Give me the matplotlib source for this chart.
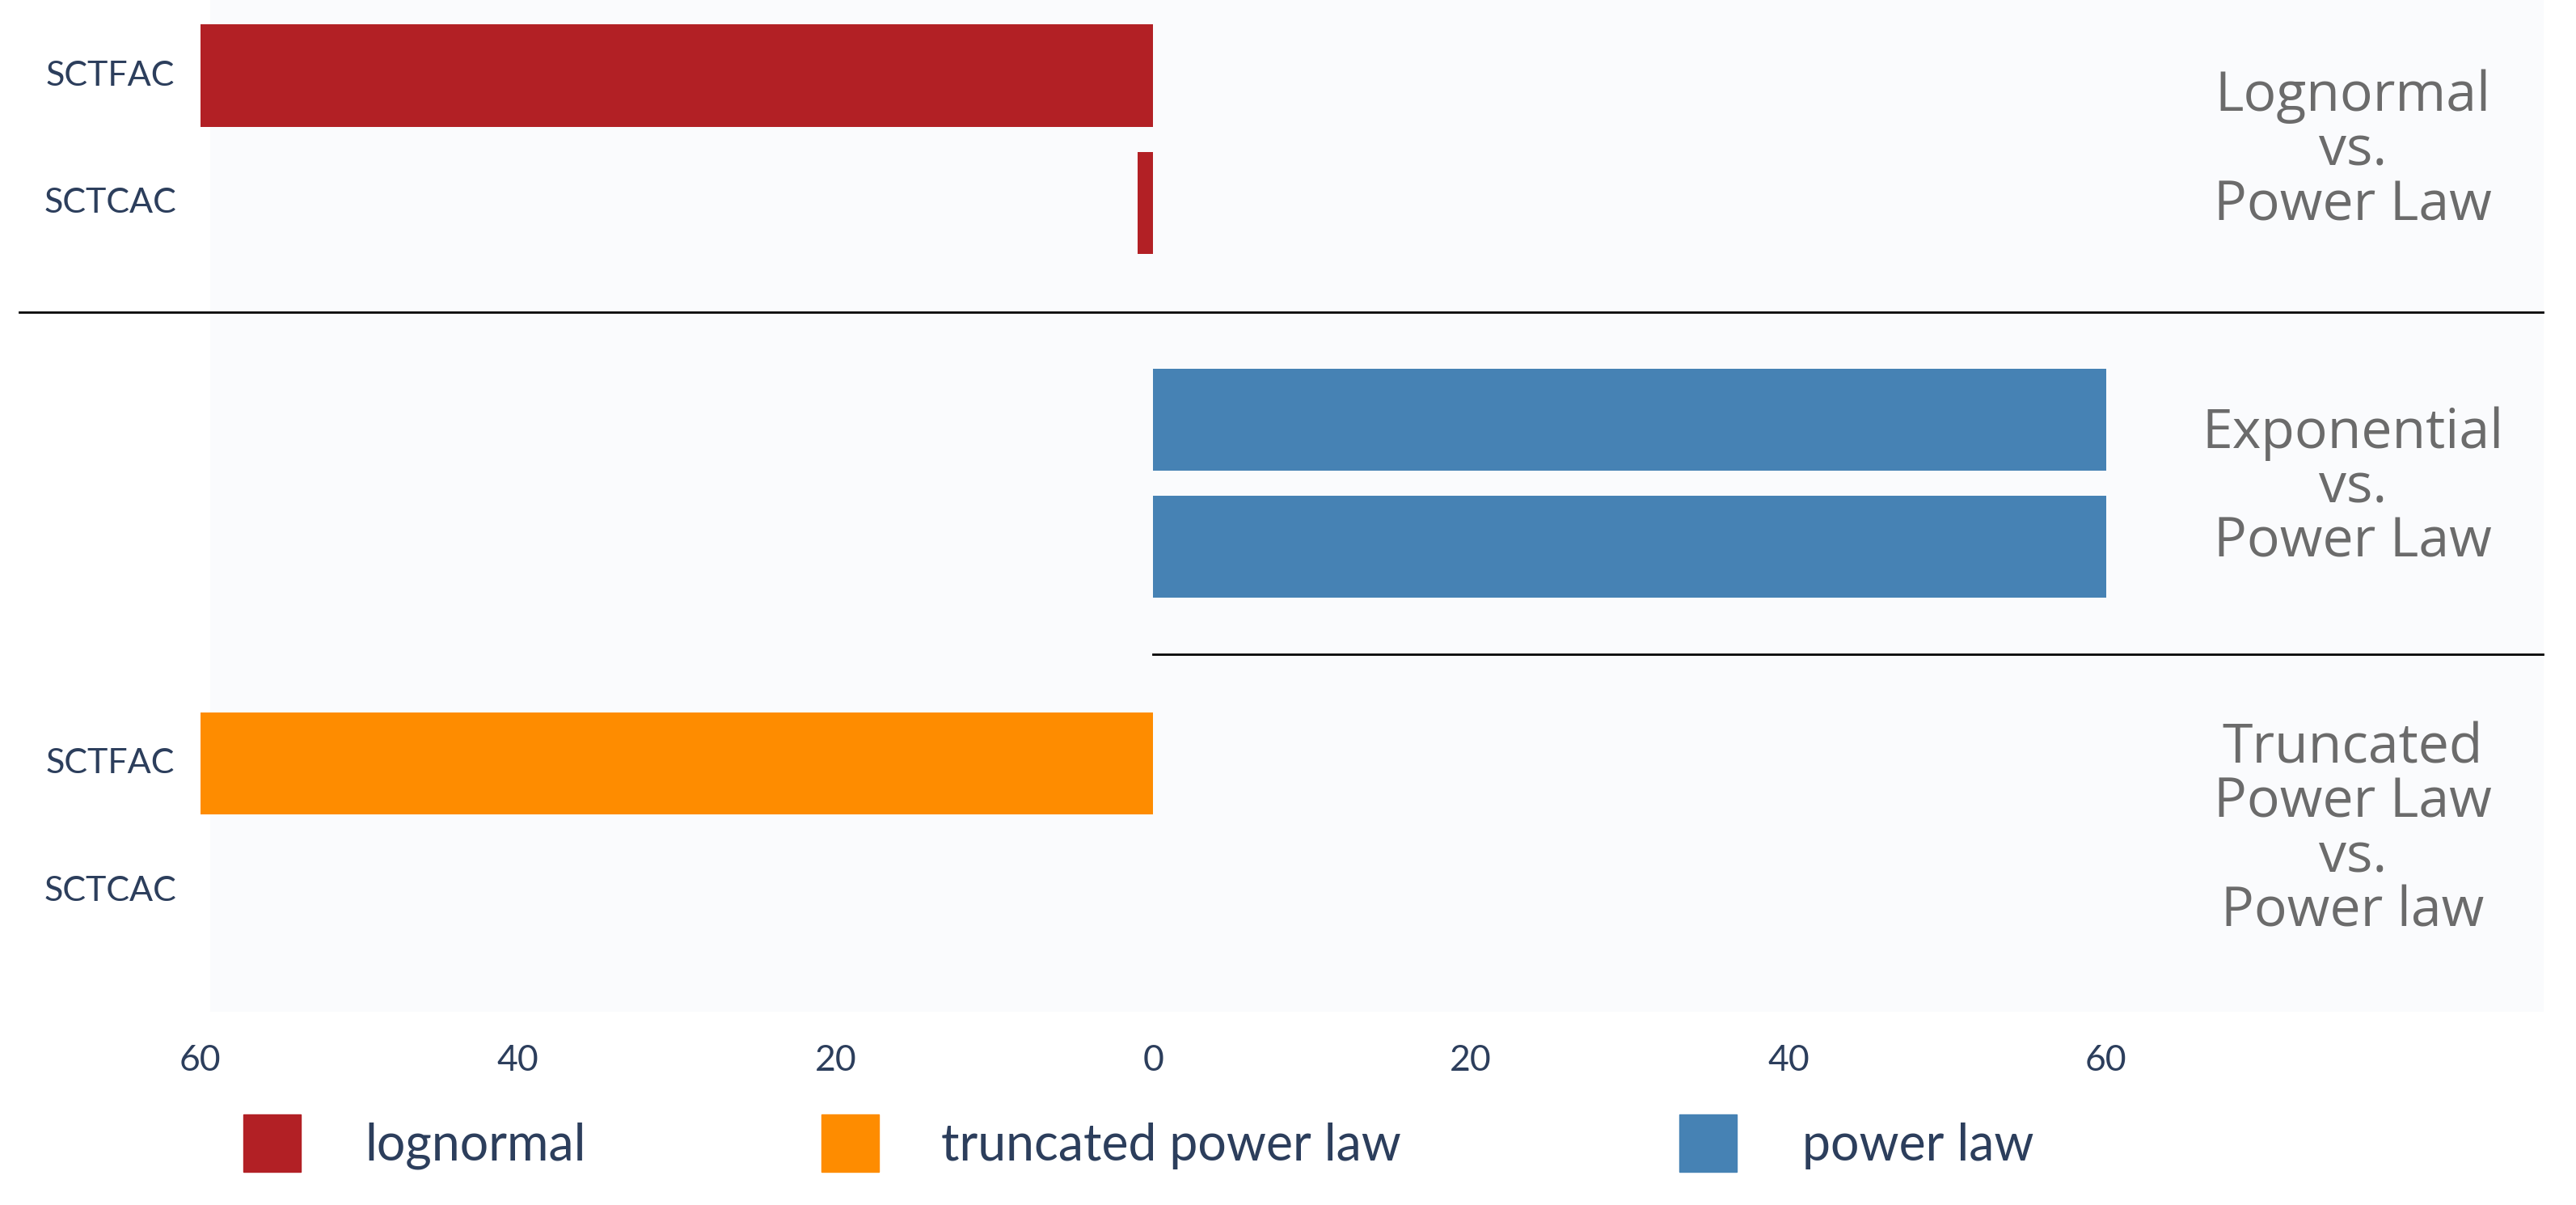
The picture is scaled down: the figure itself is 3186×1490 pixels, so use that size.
import matplotlib
matplotlib.use("Agg")
import matplotlib.pyplot as plt
from matplotlib.patches import Rectangle

categories = ["SCTFAC", "SCTCAC", "", "", "SCTFAC", "SCTCAC"]
lognormal = [-60, -1, 0, 0, 0, 0]
truncated = [0, 0, 0, 0, -60, 0]
powerlaw = [0, 0, 60, 60, 0, 0]
positions = [0, 1, 2.7, 3.7, 5.4, 6.4]
ticks = [-60, -40, -20, 0, 20, 40, 60]
tick_labels = ["60", "40", "20", "0", "20", "40", "60"]
group_labels = ["Lognormal\nvs.\nPower Law", "Exponential\nvs.\nPower Law",
                "Truncated\nPower Law\nvs.\nPower law"]
legend_names = ["lognormal", "truncated power law", "power law"]
colors = ["#b22025", "#fe8c00", "#4682b4"]

W, H = 1568, 733
fig = plt.figure(figsize=(31.86, 14.90), dpi=100)
fig.patch.set_facecolor("white")
ax = fig.add_axes([0, 0, 1, 1])
ax.set_facecolor("none")
ax.add_patch(Rectangle((128 / W, 1 - 615 / H), (1548 - 128) / W, 615 / H,
                       transform=fig.transFigure, color="#fafbfd", zorder=0))
unit = 580 / 60.0
ax.set_xlim(-702 / unit, (W - 702) / unit)
yu = 77.5
ax.set_ylim((H - 46) / yu, -46 / yu)
h = 62 / yu
for vals, c in zip([lognormal, truncated, powerlaw], colors):
    ax.barh(positions, vals, height=h, color=c, zorder=2)
ax.axis("off")

nav = "#2c3e5c"
ff = "Lato"
for p, lab in zip(positions, categories):
    ax.text(-702 / unit + 67 / unit, p, lab, ha="center", va="center",
            fontsize=31, color=nav, family=ff)
ty = (645 - 46) / yu
for t, l in zip(ticks, tick_labels):
    ax.text(t, ty, l, ha="center", va="center", fontsize=32, color=nav, family=ff)

ax.plot([-702 / unit + 12 / unit, (1548 - 702) / unit], [(190 - 46) / yu] * 2,
        color="black", lw=2)
ax.plot([0, (1548 - 702) / unit], [(398 - 46) / yu] * 2, color="black", lw=2)

gx = (1432 - 702) / unit
for yc, lab in zip([92, 297, 505], group_labels):
    ax.text(gx, (yc - 46) / yu, lab, ha="center", va="center", fontsize=49,
            color="#6b6b6b", family="Open Sans", linespacing=1.0)

for x0, tx, name, c in zip([148, 500, 1022], [222, 573, 1097], legend_names, colors):
    fig.patches.append(Rectangle((x0 / W, 1 - 713 / H), 35 / W, 35 / H,
                                 transform=fig.transFigure, color=c))
    fig.text(tx / W, 1 - 697 / H, name, ha="left", va="center", fontsize=45,
             color=nav, family=ff)

fig.savefig("out.png", dpi=100)
